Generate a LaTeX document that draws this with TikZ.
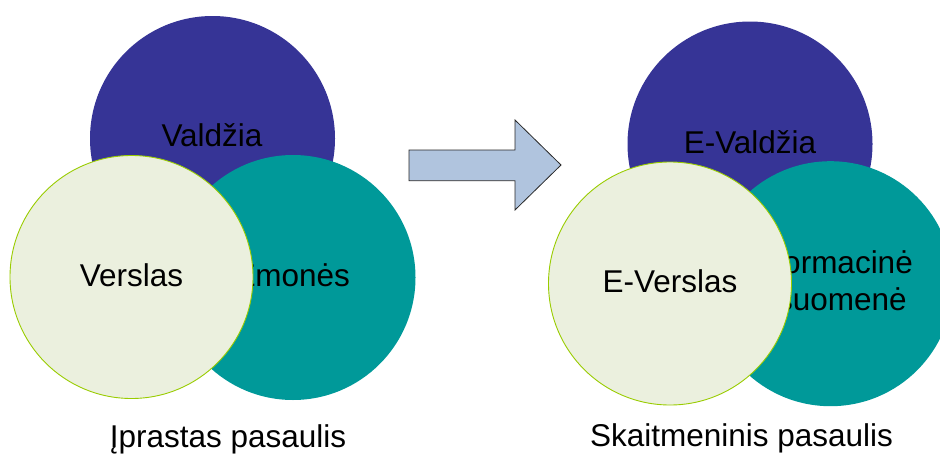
\documentclass[tikz,border=0pt]{standalone}
\usepackage{fontspec}
\setmainfont{Liberation Sans}
\definecolor{govblue}{RGB}{54,52,150}
\definecolor{peopleteal}{RGB}{0,153,153}
\definecolor{bizfill}{RGB}{235,240,222}
\definecolor{bizline}{RGB}{153,204,0}
\definecolor{arrowfill}{RGB}{176,196,222}
\definecolor{arrowline}{RGB}{40,40,40}
\begin{document}
\begin{tikzpicture}[x=1pt,y=-1pt,
  disc/.style={circle,minimum size=245pt,inner sep=0pt},
  govdisc/.style={disc,fill=govblue},
  peopledisc/.style={disc,fill=peopleteal},
  bizdisc/.style={disc,fill=bizfill,draw=bizline,line width=0.9pt,minimum size=243pt},
  lbl/.style={anchor=base,inner sep=0pt,text=black,font=\fontsize{31.5}{37}\selectfont},
  caption/.style={lbl}]
\useasboundingbox (0,0) rectangle (940,455);

% traditional world
\node[govdisc] (gov1) at (212.5,138.5) {};
\node[lbl] (gov1t) at (212,146.7) {Valdžia};
\node[peopledisc] (ppl1) at (293,277.5) {};
\node[lbl] (ppl1t) at (293,286.7) {Žmonės};
\node[bizdisc] (biz1) at (131.5,277) {};
\node[lbl] (biz1t) at (131.5,286.7) {Verslas};
\node[caption] (cap1) at (228,447.3) {Įprastas pasaulis};

% transition arrow
\path[fill=arrowfill,draw=arrowline,line width=0.8pt,line join=miter]
  (409,150) -- (515,150) -- (515,120) -- (561,165) -- (515,210)
  -- (515,180.7) -- (409,180.7) -- cycle;

% digital world
\node[govdisc] (gov2) at (750,144) {};
\node[lbl] (gov2t) at (750,153) {E-Valdžia};
\node[peopledisc] (ppl2) at (830.5,283.7) {};
\node[lbl,align=center] (ppl2t) at (830.5,310) {Informacinė\\visuomenė};
\node[bizdisc] (biz2) at (670,283.5) {};
\node[lbl] (biz2t) at (670,292) {E-Verslas};
\node[caption] (cap2) at (741.5,446.7) {Skaitmeninis pasaulis};
\end{tikzpicture}
\end{document}
